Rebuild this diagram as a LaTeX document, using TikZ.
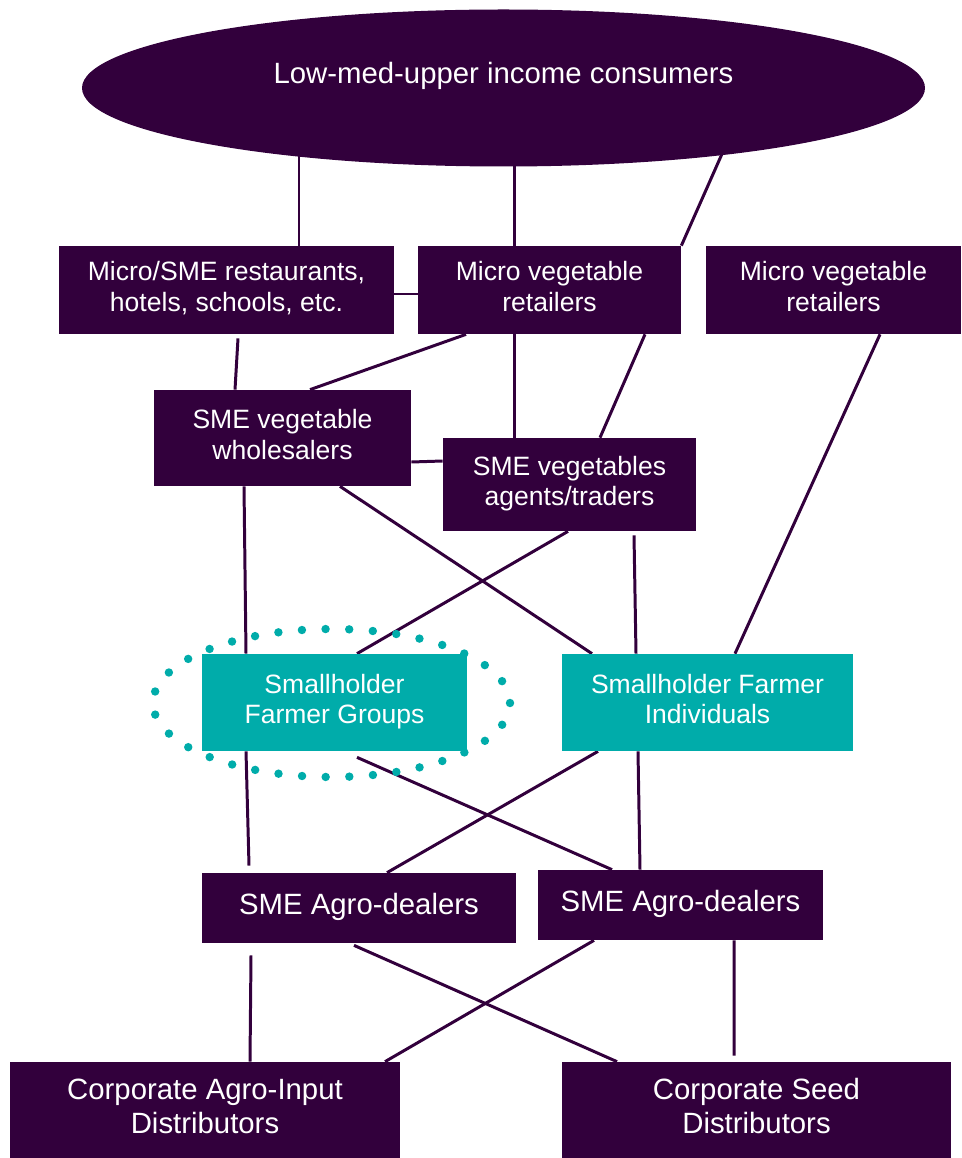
\documentclass[tikz,border=0pt]{standalone}
\usepackage{fontspec}
\setmainfont{Liberation Sans}
\usepackage{tikz}
\usetikzlibrary{shapes.geometric,backgrounds}
\definecolor{plum}{HTML}{32003C}
\definecolor{teal}{HTML}{00ACAA}
\newcommand{\lifted}[1]{\raisebox{0.2cm}{\begin{tabular}{@{}c@{}}#1\end{tabular}}}
\tikzset{
	actor/.style={rectangle, fill=plum, text=white, align=center, inner sep=0pt,
		font=\fontsize{15.1}{17.1}\selectfont},
	bigactor/.style={actor, font=\fontsize{16.7}{19.3}\selectfont},
	farmer/.style={actor, fill=teal},
	link/.style={draw=plum, line width=1.7pt},
}

\begin{document}
\begin{tikzpicture}
		%%%%% START %%%%%
		\useasboundingbox (0, 0) rectangle (19.22, -23.16);
		
		\node[ellipse, fill=plum, inner sep=0pt, minimum width=16.86cm, minimum height=3.14cm] (cons) at (10.07, -1.76) {};
		\node[text=white, font=\fontsize{16.7}{19.3}\selectfont] (consText) at (10.07, -1.52) {Low-med-upper income consumers};
		
		\node[actor, minimum width=6.70cm, minimum height=1.76cm] (rest) at (4.53, -5.80) {\lifted{Micro/SME restaurants,\\hotels, schools, etc.}};
		\node[actor, minimum width=5.26cm, minimum height=1.76cm] (retA) at (10.99, -5.80) {\lifted{Micro vegetable\\retailers}};
		\node[actor, minimum width=5.10cm, minimum height=1.76cm] (retB) at (16.67, -5.80) {\lifted{Micro vegetable\\retailers}};
		
		\node[actor, minimum width=5.14cm, minimum height=1.92cm] (whole) at (5.65, -8.76) {\lifted{SME vegetable\\wholesalers}};
		\node[actor, minimum width=5.06cm, minimum height=1.86cm] (agents) at (11.39, -9.69) {\lifted{SME vegetables\\agents/traders}};
		
		\node[farmer, minimum width=5.30cm, minimum height=1.94cm] (groups) at (6.69, -14.05) {\lifted{Smallholder\\Farmer Groups}};
		\node[farmer, minimum width=5.82cm, minimum height=1.94cm] (indiv) at (14.15, -14.05) {\lifted{Smallholder Farmer\\Individuals}};
		\draw[teal, line width=4.8pt, line cap=round, dash pattern=on 0pt off 0.473cm] (6.63, -14.06) ellipse (3.57 and 1.48);
		
		\node[bigactor, minimum width=6.28cm, minimum height=1.40cm] (dealA) at (7.18, -18.16) {\lifted{SME Agro-dealers}};
		\node[bigactor, minimum width=5.70cm, minimum height=1.40cm] (dealB) at (13.61, -18.10) {\lifted{SME Agro-dealers}};
		
		\node[bigactor, minimum width=7.80cm, minimum height=1.92cm] (corpA) at (4.10, -22.20) {\lifted{Corporate Agro-Input\\Distributors}};
		\node[bigactor, minimum width=7.78cm, minimum height=1.92cm] (corpB) at (15.13, -22.20) {\lifted{Corporate Seed\\Distributors}};
		
		\begin{scope}[on background layer]
		% consumers to the first tier
		\draw[link] ([xshift=1.45cm]rest.north) -- ([xshift=1.45cm]rest.north |- cons.center);
		\draw[link] ([xshift=-0.71cm]retA.north) -- ([xshift=-0.71cm]retA.north |- cons.center);
		\draw[link] (retA.north east) -- ([shift={(4.67,-0.64)}]cons.center);
		\draw[link] ([yshift=-0.08cm]rest.east) -- ([yshift=-0.08cm]retA.west);
		
		% retailers to wholesalers and traders
		\draw[link] ([xshift=0.23cm,yshift=-0.08cm]rest.south) -- ([xshift=-0.95cm]whole.north);
		\draw[link] ([xshift=-1.67cm]retA.south) -- ([xshift=0.55cm]whole.north);
		\draw[link] ([xshift=-0.71cm]retA.south) -- ([xshift=-1.11cm]agents.north);
		\draw[link] ([xshift=1.91cm]retA.south) -- ([xshift=0.61cm]agents.north);
		\draw[link] ([xshift=0.93cm]retB.south) -- ([xshift=0.55cm]indiv.north);
		\draw[link] ([yshift=-0.48cm]whole.east) -- ([yshift=0.47cm]agents.west);
		
		% traders to farmers
		\draw[link] ([xshift=-0.77cm]whole.south) -- ([xshift=-1.77cm]groups.north);
		\draw[link] ([xshift=1.15cm]whole.south) -- ([xshift=-2.31cm]indiv.north);
		\draw[link] ([xshift=-0.03cm]agents.south) -- ([xshift=0.45cm]groups.north);
		\draw[link] ([xshift=1.29cm,yshift=-0.08cm]agents.south) -- ([xshift=-1.43cm]indiv.north);
		
		% farmers to agro-dealers
		\draw[link] ([xshift=-1.77cm]groups.south) -- ([xshift=-2.20cm,yshift=0.14cm]dealA.north);
		\draw[link] ([xshift=0.45cm,yshift=-0.12cm]groups.south) -- ([xshift=-1.37cm]dealB.north);
		\draw[link] ([xshift=-2.19cm]indiv.south) -- ([xshift=0.56cm]dealA.north);
		\draw[link] ([xshift=-1.39cm]indiv.south) -- ([xshift=-0.81cm]dealB.north);
		
		% agro-dealers to distributors
		\draw[link] ([xshift=-2.16cm,yshift=-0.24cm]dealA.south) -- ([xshift=0.90cm]corpA.north);
		\draw[link] ([xshift=-0.10cm,yshift=-0.04cm]dealA.south) -- ([xshift=-2.79cm]corpB.north);
		\draw[link] ([xshift=-1.73cm]dealB.south) -- ([xshift=3.60cm]corpA.north);
		\draw[link] ([xshift=1.07cm]dealB.south) -- ([xshift=-0.45cm,yshift=0.12cm]corpB.north);
		\end{scope}
		
		%%%%% END %%%%%
	\end{tikzpicture}
\end{document}
